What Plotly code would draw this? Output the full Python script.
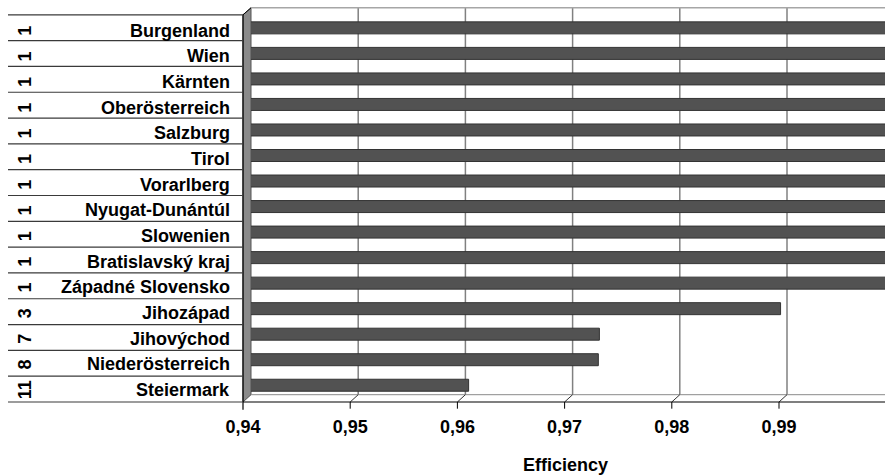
import plotly.graph_objects as go

# ---------------- data ----------------
regions = ["Burgenland", "Wien", "Kärnten", "Oberösterreich", "Salzburg", "Tirol",
           "Vorarlberg", "Nyugat-Dunántúl", "Slowenien", "Bratislavský kraj",
           "Západné Slovensko", "Jihozápad", "Jihovýchod", "Niederösterreich", "Steiermark"]
ranks = [1, 1, 1, 1, 1, 1, 1, 1, 1, 1, 1, 3, 7, 8, 11]
efficiency = [1, 1, 1, 1, 1, 1, 1, 1, 1, 1, 1, 0.9894, 0.9725, 0.9724, 0.9603]
x_ticks = [0.94, 0.95, 0.96, 0.97, 0.98, 0.99, 1.0]
x_title = "Efficiency"

# ---------------- geometry (pixels, window coordinates) ----------------
W, H = 885, 475
PL, PR, PT, PB = 251, 885, 13.2, 398.3      # bar plane (plot area)
FRONT_TOP, FRONT_BOT = 15.0, 402.3           # front plane rows
BACK_TOP, BACK_BOT = 8.0, 395.0              # back wall
DX = 8                                       # depth offset in x
PX_PER_UNIT = 10720.0
N = len(regions)
ROW_FRONT = (FRONT_BOT - FRONT_TOP) / N
ROW_BAR = (PB - PT) / N

def px(x):
    return (x - PL) / (PR - PL)

def py(y):
    return (PB - y) / (PB - PT)

FONT = "Liberation Sans, Arial, sans-serif"
FS = 18

fig = go.Figure()
fig.add_trace(go.Bar(
    x=efficiency, y=regions, orientation="h", width=0.47,
    marker=dict(color="#525252", line=dict(color="#333333", width=1)),
    hoverinfo="x+y", showlegend=False,
))

shapes = []
# left wall
shapes.append(dict(type="path", xref="paper", yref="paper",
                   path=f"M {px(243)},{py(FRONT_TOP)} L {px(251)},{py(BACK_TOP)} "
                        f"L {px(251)},{py(BACK_BOT)} L {px(243)},{py(FRONT_BOT)} Z",
                   fillcolor="#8a8a8a", line=dict(color="#555555", width=1), layer="below"))
# back wall top edge
shapes.append(dict(type="line", xref="paper", yref="paper", x0=px(251), x1=px(885),
                   y0=py(BACK_TOP), y1=py(BACK_TOP), line=dict(color="#a6a6a6", width=1.5)))
# floor back edge
shapes.append(dict(type="line", xref="paper", yref="paper", x0=px(251), x1=px(885),
                   y0=py(BACK_BOT), y1=py(BACK_BOT), line=dict(color="#8a8a8a", width=1)))
# gridlines on back wall + floor diagonals + front ticks
for v in x_ticks:
    if v > x_ticks[0]:
        shapes.append(dict(type="line", xref="x", yref="paper", x0=v, x1=v,
                           y0=py(BACK_BOT), y1=py(BACK_TOP),
                           line=dict(color="#808080", width=1.5), layer="below"))
    shapes.append(dict(type="line", xref="x", yref="paper", xsizemode="pixel", xanchor=v,
                       x0=0, x1=-DX, y0=py(BACK_BOT), y1=py(FRONT_BOT),
                       line=dict(color="#333333", width=1)))
    shapes.append(dict(type="line", xref="x", yref="paper", xsizemode="pixel", xanchor=v,
                       x0=-DX, x1=-DX, y0=py(FRONT_BOT), y1=py(409),
                       line=dict(color="#000000", width=1)))
# front axis line
shapes.append(dict(type="line", xref="paper", yref="paper", x0=px(243), x1=px(885),
                   y0=py(FRONT_BOT), y1=py(FRONT_BOT), line=dict(color="#000000", width=1.2)))
# front vertical at left of wall
shapes.append(dict(type="line", xref="paper", yref="paper", x0=px(243), x1=px(243),
                   y0=py(FRONT_TOP), y1=py(410), line=dict(color="#000000", width=1.2)))
# wall top diagonal
shapes.append(dict(type="line", xref="paper", yref="paper", x0=px(243), x1=px(251),
                   y0=py(FRONT_TOP), y1=py(BACK_TOP), line=dict(color="#000000", width=1)))
# label table dividers
for k in range(N + 1):
    yy = FRONT_TOP + k * ROW_FRONT
    shapes.append(dict(type="line", xref="paper", yref="paper", x0=px(8), x1=px(243),
                       y0=py(yy), y1=py(yy), line=dict(color="#3a3a3a", width=1.2)))

annotations = []
for k, (name, rk) in enumerate(zip(regions, ranks)):
    shift = -((FRONT_TOP + ROW_FRONT * (k + 0.5)) - (PT + ROW_BAR * (k + 0.5))) - 1
    annotations.append(dict(text=name, xref="paper", yref="y", x=px(232), y=name,
                            xanchor="right", yanchor="middle", yshift=shift, showarrow=False,
                            font=dict(family=FONT, size=FS, color="#000000", weight="bold")))
    annotations.append(dict(text=str(rk), xref="paper", yref="y", x=px(25), y=name,
                            xanchor="center", yanchor="middle", yshift=shift, showarrow=False,
                            textangle=-90,
                            font=dict(family=FONT, size=FS, color="#000000", weight="bold")))
# last tick label (outside visible range, only its edge shows)
annotations.append(dict(text="1", xref="x", yref="paper", x=x_ticks[-1], xshift=-DX - 2,
                        y=py(428), xanchor="center", yanchor="middle", showarrow=False,
                        font=dict(family=FONT, size=FS, color="#000000", weight="bold")))
annotations.append(dict(text=x_title, xref="paper", yref="paper", x=px(565), y=py(465.5),
                        xanchor="center", yanchor="middle", showarrow=False,
                        font=dict(family=FONT, size=FS, color="#000000", weight="bold")))

fig.update_layout(
    width=W, height=H,
    margin=dict(l=PL, r=W - PR, t=PT, b=H - PB, pad=0),
    paper_bgcolor="white", plot_bgcolor="white",
    separators=",.",
    bargap=0.5,
    shapes=shapes, annotations=annotations,
    xaxis=dict(range=[x_ticks[0], x_ticks[0] + (PR - PL) / PX_PER_UNIT],
               tickvals=x_ticks[:-1], tickformat=".2f", showgrid=False, zeroline=False,
               showline=False, ticks="", ticklabelshift=-DX, ticklabelstandoff=16,
               automargin=False,
               tickfont=dict(family=FONT, size=FS, color="#000000", weight="bold")),
    yaxis=dict(autorange="reversed", showticklabels=False, showgrid=False,
               zeroline=False, showline=False, ticks="", automargin=False),
    showlegend=False,
)

fig.write_html("out.html",
               config={"displayModeBar": False},
               post_script="document.body.style.margin='0';"
                           "document.body.style.overflow='hidden';")
